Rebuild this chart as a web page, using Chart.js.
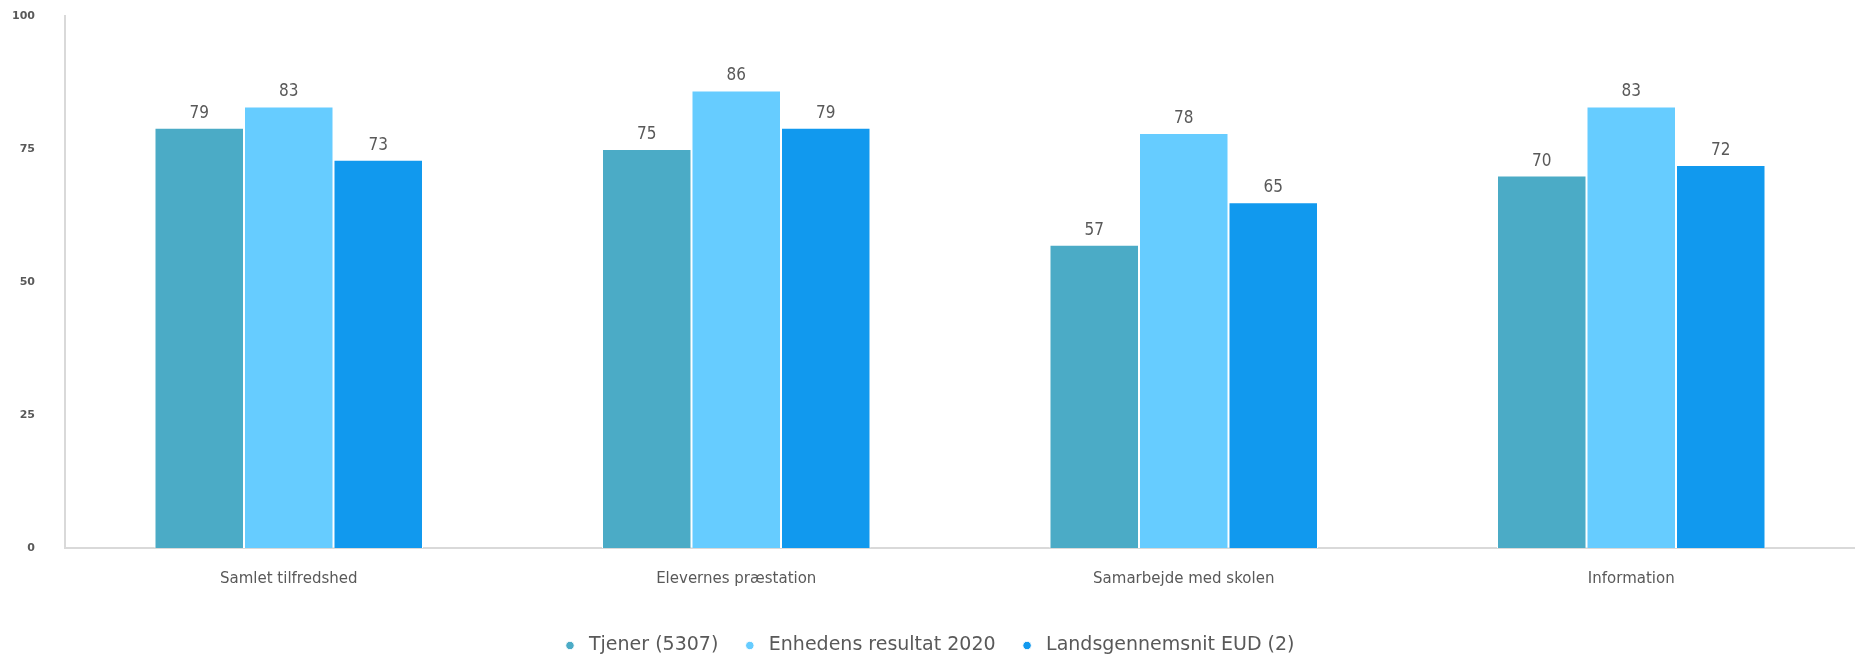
<!DOCTYPE html>
<html>
<head>
<meta charset="utf-8">
<script src="https://cdn.jsdelivr.net/npm/chart.js@4/dist/chart.umd.min.js"></script>
<style>
  html, body { margin: 0; padding: 0; background: #fff; }
  #wrap { width: 1855px; height: 658px; }
</style>
</head>
<body>
<div id="wrap"><canvas id="chart"></canvas></div>
<script>
// data
const categories = ['Samlet tilfredshed', 'Elevernes præstation', 'Samarbejde med skolen', 'Information'];
const seriesNames = ['Tjener (5307)', 'Enhedens resultat 2020', 'Landsgennemsnit EUD (2)'];
const tjener = [79, 75, 57, 70];
const enheden = [83, 86, 78, 83];
const landsgennemsnit = [73, 79, 65, 72];
const yTicks = [0, 25, 50, 75, 100];

const colors = ['#4babc6', '#66ccff', '#1199ee'];

// simple value labels above bars
const valueLabels = {
  id: 'valueLabels',
  afterDatasetsDraw(chart) {
    const ctx = chart.ctx;
    ctx.save();
    ctx.font = '17px "DejaVu Sans Condensed"';
    ctx.fillStyle = '#595959';
    ctx.textAlign = 'center';
    ctx.textBaseline = 'bottom';
    chart.data.datasets.forEach((ds, i) => {
      chart.getDatasetMeta(i).data.forEach((bar, j) => {
        ctx.fillText(ds.data[j], bar.x, bar.y - 6);
      });
    });
    ctx.restore();
  }
};

new Chart(document.getElementById('chart'), {
  type: 'bar',
  data: {
    labels: categories,
    datasets: [
      { label: seriesNames[0], data: tjener, backgroundColor: colors[0] },
      { label: seriesNames[1], data: enheden, backgroundColor: colors[1] },
      { label: seriesNames[2], data: landsgennemsnit, backgroundColor: colors[2] }
    ]
  },
  options: {
    responsive: true,
    maintainAspectRatio: false,
    animation: false,
    layout: { padding: { top: 16, right: 0, left: 0, bottom: -7 } },
    datasets: {
      bar: {
        barPercentage: 1,
        categoryPercentage: 0.6,
        borderWidth: 1,
        borderColor: '#ffffff'
      }
    },
    plugins: {
      legend: {
        position: 'bottom',
        labels: {
          usePointStyle: true,
          pointStyle: 'circle',
          boxHeight: 6,
          padding: 22,
          color: '#595959',
          font: { family: '"DejaVu Sans"', size: 19 }
        }
      },
      tooltip: { enabled: false }
    },
    scales: {
      x: {
        afterFit(axis) { axis.height += 4; },
        grid: { display: false, drawTicks: false },
        border: { color: '#d9d9d9', width: 2 },
        ticks: {
          color: '#595959',
          padding: 22,
          font: { family: '"DejaVu Sans"', size: 15 }
        }
      },
      y: {
        min: 0,
        max: 100,
        afterBuildTicks(axis) { axis.ticks = yTicks.map(v => ({ value: v })); },
        afterFit(axis) {
          axis.width = 65;
          axis.paddingTop = 0;
          axis.paddingBottom = 0;
        },
        grid: { display: false, drawTicks: false },
        border: { color: '#d9d9d9', width: 2 },
        ticks: {
          color: '#595959',
          padding: 30,
          font: { family: '"DejaVu Sans"', size: 11, weight: 'bold' }
        }
      }
    }
  },
  plugins: [valueLabels]
});
</script>
</body>
</html>
